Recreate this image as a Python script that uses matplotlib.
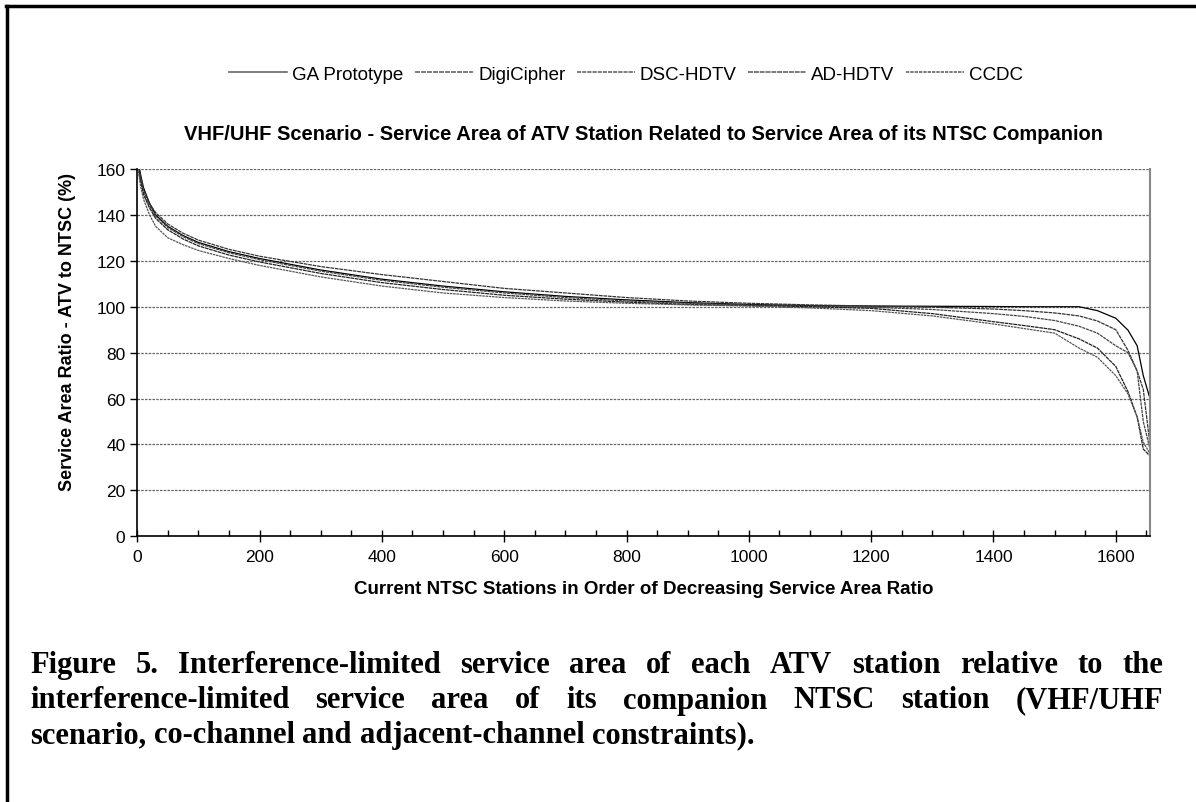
import matplotlib
matplotlib.use("Agg")
import matplotlib.pyplot as plt
from matplotlib.lines import Line2D

# station index (order of decreasing service area ratio)
x_pts = [0, 5, 10, 20, 30, 50, 75, 100, 150, 200, 300, 400, 500, 600, 700, 800,
         900, 1000, 1100, 1200, 1300, 1400, 1450, 1500, 1540, 1570, 1600, 1620,
         1635, 1645, 1656]

ga_proto = [166, 158, 152, 145, 140, 135, 131, 128, 124, 121, 116, 112, 109, 106.5,
            104.5, 103, 101.8, 101, 100.5, 100.3, 100.2, 100.1, 100, 100, 100, 98.3,
            95, 89.8, 83, 70, 60]
digicipher = [166, 157, 151, 145, 141, 136, 132, 129, 125, 122, 117.5, 114, 111, 108,
              106, 104, 102.5, 101.5, 100.8, 100.3, 99.8, 99, 98.3, 97.3, 96, 93.8,
              90, 81, 72, 64, 40]
dsc_hdtv = [165, 156, 150, 144, 139.5, 134.5, 130.5, 127.5, 123.5, 120.5, 115.5, 111.5,
            108.5, 106, 104, 102.5, 101.5, 100.8, 100.3, 99.8, 98.8, 97, 95.8, 94,
            91.5, 88.5, 83, 80, 72, 50, 38]
ad_hdtv = [165, 155, 149, 143, 138.5, 133.5, 129.5, 126.5, 122.5, 119.5, 114.5, 110.5,
           107.5, 105, 103.3, 102, 101, 100.5, 100, 99.3, 97, 93.5, 91.8, 90, 86, 82,
           74, 63, 52, 38, 35]
ccdc = [162, 153, 147, 140, 135, 130, 127, 124.5, 121, 118, 113, 109, 106, 104, 102.5,
        101.5, 100.8, 100.3, 99.5, 98.3, 96, 92.5, 90.5, 88.5, 82, 78, 70, 62, 52, 41,
        36]

labels = ["GA Prototype", "DigiCipher", "DSC-HDTV", "AD-HDTV", "CCDC"]
series = [ga_proto, digicipher, dsc_hdtv, ad_hdtv, ccdc]
colors = ["#000000", "#333333", "#444444", "#222222", "#555555"]
styles = ["-", (0, (3, 0.6)), (0, (2.5, 0.6)), (0, (3, 0.5)), (0, (2, 0.6))]

caption_lines = [
    "Figure 5. Interference-limited service area of each ATV station relative to the",
    "interference-limited service area of its companion NTSC station (VHF/UHF",
    "scenario, co-channel and adjacent-channel constraints).",
]

plt.rcParams["font.family"] = ["Liberation Sans", "DejaVu Sans"]

W, H = 1196, 803
fig = plt.figure(figsize=(W / 100, H / 100), dpi=100)
ax = fig.add_axes([137.3 / W, 1 - 537.3 / H, (1150 - 137.3) / W, (537.3 - 170) / H])

for vals, lab, c, ls in zip(series, labels, colors, styles):
    ax.plot(x_pts, vals, color=c, linestyle=ls, linewidth=0.9, label=lab)

ax.set_xlim(0, 1656)
ax.set_ylim(0, 160)
ax.set_xticks(range(0, 1601, 200))
ax.set_xticks(range(0, 1651, 50), minor=True)
ax.set_yticks(range(0, 161, 20))
ax.tick_params(axis="x", which="major", direction="inout", length=8, width=1,
               labelsize=12.5, pad=5)
ax.tick_params(axis="x", which="minor", direction="in", length=4, width=1)
ax.tick_params(axis="y", direction="out", length=5, width=1, labelsize=12.5)
ax.grid(axis="y", color="#666666", linestyle=(0, (2, 1)), linewidth=0.9)
ax.spines["top"].set_visible(False)
ax.spines["right"].set_color("#888888")
ax.spines["right"].set_linewidth(1.5)
for s in ["left", "bottom"]:
    ax.spines[s].set_linewidth(1.2)

ax.set_xlabel("Current NTSC Stations in Order of Decreasing Service Area Ratio",
              fontsize=13.5, fontweight="bold", labelpad=12)
ax.set_ylabel("Service Area Ratio - ATV to NTSC (%)", fontsize=13,
              fontweight="bold")
ax.yaxis.set_label_coords(-0.061, 0.56)

fig.text(643 / W, 1 - 135 / H,
         "VHF/UHF Scenario - Service Area of ATV Station Related to Service Area of its NTSC Companion",
         ha="center", va="center", fontsize=14.5, fontweight="bold")

leg = fig.legend(loc="center", bbox_to_anchor=(626 / W, 1 - 75 / H), ncol=5,
                 frameon=False, fontsize=13.5, handlelength=3.1, columnspacing=0.6,
                 handletextpad=0.27)
for h in leg.get_lines():
    h.set_color("#666666")
    h.set_linewidth(1.2)

# outer frame (only left and top edges fall inside the picture)
fig.add_artist(Line2D([7 / W, 7 / W], [0, 1 - 7 / H], transform=fig.transFigure,
                      color="black", linewidth=2.5))
fig.add_artist(Line2D([6 / W, 1], [1 - 7 / H, 1 - 7 / H], transform=fig.transFigure,
                      color="black", linewidth=2.5))

# justified caption
renderer = fig.canvas.get_renderer()
x0, x1 = 30, 1163
ys = [666, 701, 736]
for i, (line, yy) in enumerate(zip(caption_lines, ys)):
    words = line.split(" ")
    texts = [fig.text(0, 1 - yy / H, w, fontsize=22, fontweight="bold",
                      family="Liberation Serif", va="center", ha="left")
             for w in words]
    widths = [t.get_window_extent(renderer).width for t in texts]
    if i < len(caption_lines) - 1:
        gap = (x1 - x0 - sum(widths)) / (len(words) - 1)
    else:
        gap = texts[0].get_fontsize() * 100 / 72 * 0.25
    xx = x0
    for t, wdt in zip(texts, widths):
        t.set_x(xx / W)
        xx += wdt + gap

fig.savefig("out.png", dpi=100)
